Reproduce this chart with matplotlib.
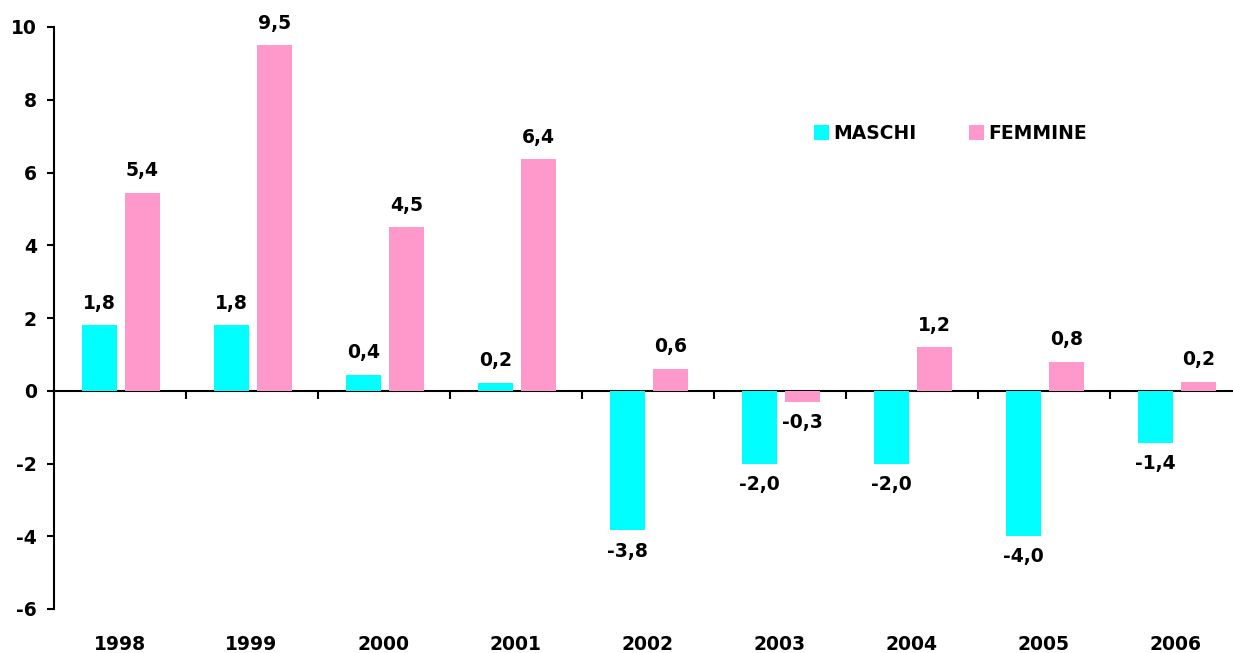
import numpy as np
import matplotlib
matplotlib.use("Agg")
import matplotlib.pyplot as plt
from matplotlib.ticker import FixedLocator, NullFormatter

# dati
anni = ["1998", "1999", "2000", "2001", "2002", "2003", "2004", "2005", "2006"]
maschi = [1.8, 1.8, 0.44, 0.22, -3.84, -2.0, -2.0, -3.98, -1.43]
femmine = [5.44, 9.5, 4.5, 6.37, 0.6, -0.3, 1.2, 0.8, 0.25]
y_ticks = [-6, -4, -2, 0, 2, 4, 6, 8, 10]

COL_M = "#00FFFF"
COL_F = "#FF99CC"

plt.rcParams["font.family"] = ["DejaVu Sans"]
plt.rcParams["font.weight"] = "bold"

W, H = 1233, 653
fig = plt.figure(figsize=(W / 100, H / 100), dpi=100)
# asse: sinistra x=53.5px, y da 609px (-6) a 27px (10)
left = 53.5 / W
ax = fig.add_axes([left, (H - 609) / H, 1 - left, 582 / H])

x = np.arange(len(anni))
w = 0.27
bm = ax.bar(x - 0.152, maschi, w, color=COL_M, label="MASCHI", zorder=2)
bf = ax.bar(x + 0.174, femmine, w, color=COL_F, label="FEMMINE", zorder=2)


def fmt(v):
    return f"{v:.1f}".replace(".", ",")


for bars, vals in ((bm, maschi), (bf, femmine)):
    for b, v in zip(bars, vals):
        cx = b.get_x() + b.get_width() / 2
        if v >= 0:
            ax.annotate(fmt(v), (cx, v), xytext=(0, 9), textcoords="offset points",
                        ha="center", va="bottom", fontsize=13.5, fontweight="bold")
        else:
            ax.annotate(fmt(v), (cx, v), xytext=(0, -8), textcoords="offset points",
                        ha="center", va="top", fontsize=13.5, fontweight="bold")

# la categoria ha larghezza 132px; l'asse esce dall'immagine a destra
ax.set_xlim(-0.5, -0.5 + (W - 53.5) / 132)
ax.set_ylim(-6, 10)

ax.set_yticks(y_ticks)
ax.set_yticklabels([str(t) for t in y_ticks])
ax.tick_params(axis="y", direction="out", length=5, width=1.5, pad=7, labelsize=13.5)

ax.set_xticks(x)
ax.set_xticklabels(anni)
ax.tick_params(axis="x", length=0, pad=19, labelsize=13.5)

for s in ("top", "right", "bottom"):
    ax.spines[s].set_visible(False)
ax.spines["left"].set_linewidth(1.5)

# linea dello zero con tacche tra le categorie
zero = ax.secondary_xaxis(0, transform=ax.transData)
zero.spines["bottom"].set_linewidth(1.5)
zero.xaxis.set_major_locator(FixedLocator(np.arange(len(anni) + 1) - 0.5))
zero.xaxis.set_major_formatter(NullFormatter())
zero.tick_params(axis="x", direction="out", length=6, width=1.5)

ax.legend(loc="upper left", bbox_to_anchor=(814 / W, 1 - 124 / H),
          bbox_transform=fig.transFigure, ncol=2, frameon=False,
          fontsize=13.5, handlelength=0.8, handleheight=0.8, handletextpad=0.25,
          columnspacing=2.75, borderpad=0, borderaxespad=0)

fig.savefig("out.png", dpi=100)
